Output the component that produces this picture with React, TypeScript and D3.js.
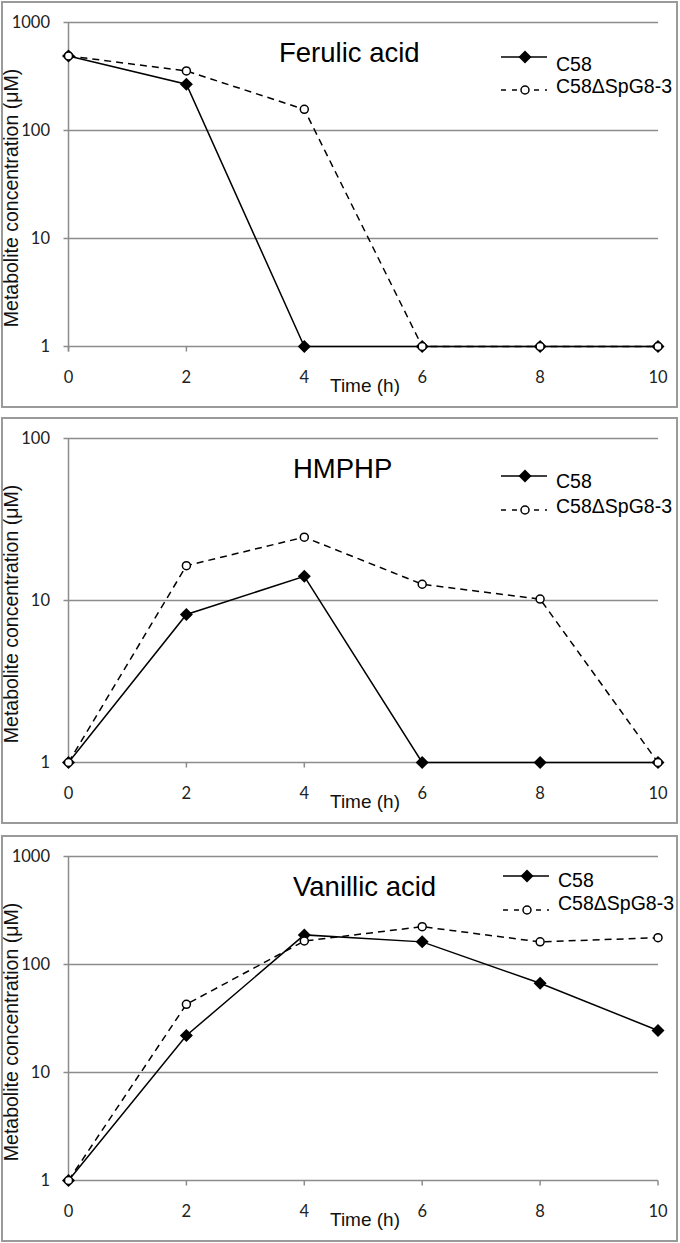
import React from "react";
import * as d3 from "d3";

const times = [0, 2, 4, 6, 8, 10];
const xTicks = [0, 2, 4, 6, 8, 10];
const seriesNames = ["C58", "C58ΔSpG8-3"];

const ferulicC58 = [490, 268, 1, 1, 1, 1];
const ferulicMut = [490, 356, 157, 1, 1, 1];
const hmphpC58 = [1, 8.2, 14.1, 1, 1, 1];
const hmphpMut = [1, 16.4, 24.6, 12.6, 10.2, 1];
const vanillicC58 = [1, 22, 188, 162, 67, 24.5];
const vanillicMut = [1, 42.8, 165, 224, 162, 177];

const ticks1000 = [1, 10, 100, 1000];
const ticks100 = [1, 10, 100];

const panels = [
  { title: "Ferulic acid", c58: ferulicC58, mut: ferulicMut, yMax: 1000, yTicks: ticks1000 },
  { title: "HMPHP", c58: hmphpC58, mut: hmphpMut, yMax: 100, yTicks: ticks100 },
  { title: "Vanillic acid", c58: vanillicC58, mut: vanillicMut, yMax: 1000, yTicks: ticks1000 },
];

// layout (positions only)
const layout = [
  { top: 2, titleX: 279, leg: [55, 69, 88, 91], legX: 501 },
  { top: 418, titleX: 293, leg: [58, 70, 92, 95], legX: 501 },
  { top: 836, titleX: 293, leg: [40, 51, 74, 74], legX: 503 },
];

const W = 680;
const H = 1243;
const frameLeft = 2;
const frameRight = 677;
const frameH = 405;
const plotTopOff = 20.5;
const plotBotOff = 344.5;
const xLeft = 68.5;
const xRight = 658;

const gridColor = "#8c8c8c";
const frameColor = "#9a9a9a";
const tickFont = "Lato, 'Liberation Sans', sans-serif";
const textFont = "'Liberation Sans', Arial, sans-serif";

const diamond = (s: number) => `M0,${-s}L${s},0L0,${s}L${-s},0Z`;

function Panel({ p, l }: { p: typeof panels[number]; l: typeof layout[number] }) {
  const x = d3.scaleLinear().domain([0, 10]).range([xLeft, xRight]);
  const y = d3
    .scaleLog()
    .domain([1, p.yMax])
    .range([l.top + plotBotOff, l.top + plotTopOff]);
  const line = d3
    .line<number>()
    .x((_, i) => x(times[i]))
    .y((v) => y(v));
  const y0 = y(1);
  const yTop = y(p.yMax);
  return (
    <g>
      <rect
        x={frameLeft}
        y={l.top}
        width={frameRight - frameLeft}
        height={frameH}
        fill="white"
        stroke={frameColor}
        strokeWidth={2}
      />
      {/* gridlines */}
      {p.yTicks.map((t) => (
        <g key={t}>
          <line x1={xLeft - 5} x2={xRight} y1={y(t)} y2={y(t)} stroke={gridColor} strokeWidth={1.5} />
          <text
            x={50}
            y={y(t)}
            dy="0.36em"
            textAnchor="end"
            fontFamily={tickFont}
            fontSize={16.5}
            fill="#222"
          >
            {t}
          </text>
        </g>
      ))}
      <line x1={xLeft} x2={xLeft} y1={yTop} y2={y0 + 5} stroke={gridColor} strokeWidth={1.5} />
      {xTicks.map((t) => (
        <g key={t}>
          <line x1={x(t)} x2={x(t)} y1={y0} y2={y0 + 5} stroke={gridColor} strokeWidth={1.5} />
          <text
            x={x(t)}
            y={y0 + 36}
            textAnchor="middle"
            fontFamily={tickFont}
            fontSize={16.5}
            fill="#222"
          >
            {t}
          </text>
        </g>
      ))}
      <text x={365} y={y0 + 45} textAnchor="middle" fontFamily={textFont} fontSize={19} fill="#111">
        Time (h)
      </text>
      <text
        transform={`translate(18,${l.top + 196}) rotate(-90)`}
        textAnchor="middle"
        fontFamily={textFont}
        fontSize={19.5}
        fill="#111"
      >
        Metabolite concentration (μM)
      </text>
      <text x={l.titleX} y={l.top + 60} fontFamily={textFont} fontSize={27.5} fill="#000">
        {p.title}
      </text>
      {/* series */}
      <path d={line(p.c58) || ""} fill="none" stroke="#000" strokeWidth={1.5} />
      <path d={line(p.mut) || ""} fill="none" stroke="#000" strokeWidth={1.5} strokeDasharray="7,5" />
      {p.c58.map((v, i) => (
        <path key={"d" + i} d={diamond(6.5)} transform={`translate(${x(times[i])},${y(v)})`} fill="#000" />
      ))}
      {p.mut.map((v, i) => (
        <circle key={"c" + i} cx={x(times[i])} cy={y(v)} r={4} fill="#fff" stroke="#000" strokeWidth={1.5} />
      ))}
      {/* legend */}
      <line x1={l.legX} x2={l.legX + 46} y1={l.top + l.leg[0]} y2={l.top + l.leg[0]} stroke="#000" strokeWidth={1.5} />
      <path d={diamond(6.5)} transform={`translate(${l.legX + 24},${l.top + l.leg[0]})`} fill="#000" />
      <text x={l.legX + 55} y={l.top + l.leg[1]} fontFamily={textFont} fontSize={19.5} fill="#000">
        {seriesNames[0]}
      </text>
      <line
        x1={l.legX}
        x2={l.legX + 46}
        y1={l.top + l.leg[2]}
        y2={l.top + l.leg[2]}
        stroke="#000"
        strokeWidth={1.5}
        strokeDasharray="5,6"
      />
      <circle cx={l.legX + 24} cy={l.top + l.leg[2]} r={4} fill="#fff" stroke="#000" strokeWidth={1.5} />
      <text x={l.legX + 55} y={l.top + l.leg[3]} fontFamily={textFont} fontSize={19.5} fill="#000">
        {seriesNames[1]}
      </text>
    </g>
  );
}

export default function App() {
  return (
    <svg
      width={W}
      height={H}
      viewBox={`0 0 ${W} ${H}`}
      style={{ position: "absolute", left: 0, top: 0, background: "#fff" }}
    >
      <rect x={0} y={0} width={W} height={H} fill="#fff" />
      {panels.map((p, i) => (
        <Panel key={p.title} p={p} l={layout[i]} />
      ))}
    </svg>
  );
}
